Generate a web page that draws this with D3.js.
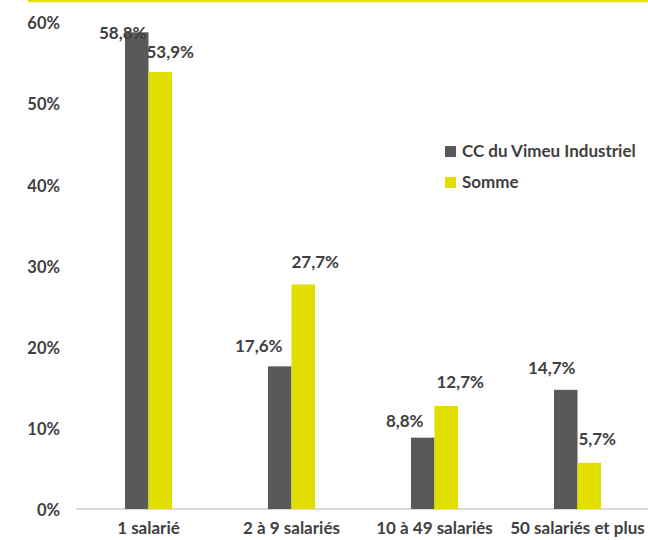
<!DOCTYPE html>
<html><head><meta charset="utf-8">
<script src="https://cdn.jsdelivr.net/npm/d3@7"></script>
<style>body{margin:0;background:#fff}svg{display:block}text{font-family:Lato,"Open Sans",sans-serif;font-weight:bold;fill:#404040}</style>
</head><body>
<script>
const categories = ["1 salarié","2 à 9 salariés","10 à 49 salariés","50 salariés et plus"];
const seriesNames = ["CC du Vimeu Industriel","Somme"];
const vimeu = [58.8,17.6,8.8,14.7];
const somme = [53.9,27.7,12.7,5.7];
const yTicks = [0,10,20,30,40,50,60];
const colors = ["#595959","#E2DF00"];
// manual label offsets (dx, dy from bar centre / bar top) – layout, not data
const labelOffsets = [
  [[-14,1],[10,-20]],
  [[-21,-20],[12,-22]],
  [[-18,-17],[14,-24]],
  [[-14,-22],[8,-24]]
];

const W=648,H=540,FS="17px";
const svg=d3.select("body").append("svg").attr("width",W).attr("height",H);
svg.append("line").attr("x1",28).attr("x2",W).attr("y1",1).attr("y2",1).attr("stroke","#E5E000").attr("stroke-width",2.5);

const x=d3.scaleBand().domain(categories).range([77,649]).paddingInner(0).paddingOuter(0);
const y=d3.scaleLinear().domain([0,60]).range([509,22.6]);
const barW=23.5;

// y axis labels
svg.append("g").selectAll("text").data(yTicks).join("text")
  .attr("x",60).attr("y",d=>y(d)+1).attr("dy","0.35em").attr("text-anchor","end")
  .style("font-size","16.5px").text(d=>d+"%");

// zero line
svg.append("line").attr("x1",76).attr("x2",W).attr("y1",y(0)).attr("y2",y(0)).attr("stroke","#D9D9D9").attr("stroke-width",2);

const series=[vimeu,somme];
const fmt=v=>d3.format(".1f")(v).replace(".",",")+"%";
series.forEach((vals,si)=>{
  const g=svg.append("g");
  g.selectAll("rect").data(vals).join("rect")
    .attr("x",(d,i)=>x(categories[i])+x.bandwidth()/2-barW+si*barW)
    .attr("width",barW)
    .attr("y",d=>y(d)).attr("height",d=>y(0)-y(d))
    .attr("fill",colors[si]);
  g.selectAll("text").data(vals).join("text")
    .attr("x",(d,i)=>x(categories[i])+x.bandwidth()/2-barW/2+si*barW+labelOffsets[i][si][0])
    .attr("y",(d,i)=>y(d)+labelOffsets[i][si][1])
    .attr("dy","0.35em").attr("text-anchor","middle").style("font-size",FS)
    .text(d=>fmt(d));
});

// x labels
svg.append("g").selectAll("text").data(categories).join("text")
  .attr("x",d=>x(d)+x.bandwidth()/2).attr("y",528).attr("dy","0.35em")
  .attr("text-anchor","middle").style("font-size",FS).text(d=>d);

// legend
const lg=svg.append("g");
seriesNames.forEach((n,i)=>{
  lg.append("rect").attr("x",445).attr("y",146+i*31).attr("width",11).attr("height",11).attr("fill",colors[i]);
  lg.append("text").attr("x",462).attr("y",151.5+i*31).attr("dy","0.35em").style("font-size",FS).text(n);
});
</script>
</body></html>
